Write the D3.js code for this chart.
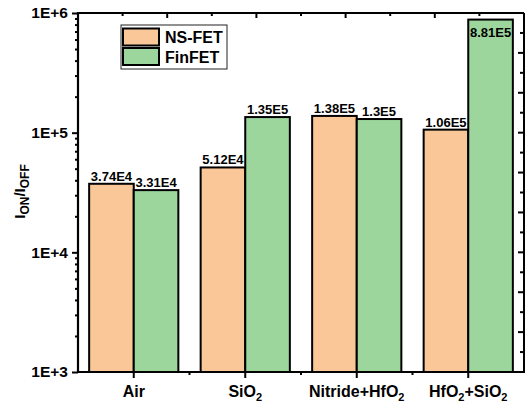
<!DOCTYPE html>
<html>
<head>
<meta charset="utf-8">
<script src="https://cdn.jsdelivr.net/npm/d3@7"></script>
<style>
  html, body { margin: 0; padding: 0; background: #fff; }
  svg { display: block; }
  text { font-family: "Liberation Sans", Arial, sans-serif; font-weight: bold; fill: #000; }
</style>
</head>
<body>
<svg id="chart" width="530" height="402"></svg>
<script>
// Dielectric spacer options on the x axis
const categories = ["Air", "SiO2", "Nitride+HfO2", "HfO2+SiO2"];
// Displayed category labels (subscripted "2")
const categoryLabels = [
  [["Air", false]],
  [["SiO", false], ["2", true]],
  [["Nitride+HfO", false], ["2", true]],
  [["HfO", false], ["2", true], ["+SiO", false], ["2", true]]
];
const seriesNames = ["NS-FET", "FinFET"];
// ION/IOFF ratio per device
const nsfet  = [3.74e4, 5.12e4, 1.38e5, 1.06e5];
const finfet = [3.31e4, 1.35e5, 1.30e5, 8.81e5];
const nsfetLabels  = ["3.74E4", "5.12E4", "1.38E5", "1.06E5"];
const finfetLabels = ["3.31E4", "1.35E5", "1.3E5", "8.81E5"];
const yTicks = [1e3, 1e4, 1e5, 1e6];
const yTickLabels = ["1E+3", "1E+4", "1E+5", "1E+6"];

const colors = ["#FAC898", "#9CD69D"];

const svg = d3.select("#chart");
const margin = { left: 78, right: 6, top: 13, bottom: 30 };
const W = 530, H = 402;
const x0 = margin.left, x1 = W - margin.right;
const y0 = H - margin.bottom, y1 = margin.top;

const x = d3.scaleBand().domain(categories).range([x0, x1]).paddingInner(0.2).paddingOuter(0.1);
const xs = d3.scaleBand().domain(seriesNames).range([0, x.bandwidth()]);
const y = d3.scaleLog().domain([1e3, 1e6]).range([y0, y1]);

const series = [nsfet, finfet];
const labels = [nsfetLabels, finfetLabels];

// Bars
series.forEach((vals, si) => {
  svg.append("g").selectAll("rect")
    .data(vals)
    .join("rect")
    .attr("x", (d, i) => x(categories[i]) + xs(seriesNames[si]))
    .attr("y", d => y(d))
    .attr("width", xs.bandwidth())
    .attr("height", d => y(1e3) - y(d))
    .attr("fill", colors[si])
    .attr("stroke", "#000")
    .attr("stroke-width", 2);
});

// Value labels (placed inside the bar when there is no room above it)
series.forEach((vals, si) => {
  svg.append("g").selectAll("text")
    .data(vals)
    .join("text")
    .attr("x", (d, i) => x(categories[i]) + xs(seriesNames[si]) + xs.bandwidth() / 2)
    .attr("y", d => y(d) - 15 < y1 ? y(d) + 17 : y(d) - 3)
    .attr("text-anchor", "middle")
    .attr("font-size", 13)
    .text((d, i) => labels[si][i]);
});

// Frame
const axisG = svg.append("g").attr("stroke", "#000").attr("fill", "none");
axisG.append("line").attr("x1", x0).attr("x2", x0).attr("y1", y1 - 1).attr("y2", y0 + 1).attr("stroke-width", 2.2);
axisG.append("line").attr("x1", x0 - 1).attr("x2", x1 + 1).attr("y1", y0).attr("y2", y0).attr("stroke-width", 2.2);
axisG.append("line").attr("x1", x0).attr("x2", x1).attr("y1", y1).attr("y2", y1).attr("stroke-width", 2);
axisG.append("line").attr("x1", x1).attr("x2", x1).attr("y1", y1).attr("y2", y0).attr("stroke-width", 2);

// Left axis: major decade ticks and log minor ticks, outward
const leftMinor = [];
for (let e = 3; e < 6; e++) for (let m = 2; m <= 9; m++) leftMinor.push(m * Math.pow(10, e));
const leftAxis = svg.append("g").attr("transform", `translate(${x0},0)`)
  .call(d3.axisLeft(y).tickValues(yTicks).tickFormat((d, i) => yTickLabels[i]).tickSize(6).tickPadding(4));
leftAxis.select(".domain").remove();
leftAxis.selectAll("line").attr("stroke-width", 2);
leftAxis.selectAll("text").attr("font-size", 15.5).attr("font-family", "Liberation Sans, Arial, sans-serif").attr("font-weight", "bold");
const leftMinorAxis = svg.append("g").attr("transform", `translate(${x0},0)`)
  .call(d3.axisLeft(y).tickValues(leftMinor).tickFormat("").tickSize(3));
leftMinorAxis.select(".domain").remove();
leftMinorAxis.selectAll("line").attr("stroke-width", 2);

// Right axis: evenly spaced inward ticks
const yr = d3.scaleLinear().domain([0, 18]).range([y0, y1]);
const rightTicks = d3.range(1, 18);
svg.append("g").selectAll("line")
  .data(rightTicks)
  .join("line")
  .attr("x1", x1)
  .attr("x2", d => x1 - (d % 2 === 0 ? 6 : 4))
  .attr("y1", d => yr(d)).attr("y2", d => yr(d))
  .attr("stroke", "#000").attr("stroke-width", 2);

// Top axis: evenly spaced inward ticks
const xt = d3.scaleLinear().domain([0, 10]).range([x0, x1]);
svg.append("g").selectAll("line")
  .data(d3.range(1, 10))
  .join("line")
  .attr("x1", d => xt(d)).attr("x2", d => xt(d))
  .attr("y1", y1)
  .attr("y2", d => y1 + (d % 2 === 0 ? 5 : 3))
  .attr("stroke", "#000").attr("stroke-width", 2);

// Bottom axis: category ticks and midpoint minor ticks, outward
svg.append("g").selectAll("line")
  .data(categories)
  .join("line")
  .attr("x1", d => x(d) + x.bandwidth() / 2).attr("x2", d => x(d) + x.bandwidth() / 2)
  .attr("y1", y0).attr("y2", y0 + 6)
  .attr("stroke", "#000").attr("stroke-width", 2);
svg.append("g").selectAll("line")
  .data(categories.slice(1))
  .join("line")
  .attr("x1", (d, i) => (x(categories[i]) + x(d) + x.bandwidth()) / 2)
  .attr("x2", (d, i) => (x(categories[i]) + x(d) + x.bandwidth()) / 2)
  .attr("y1", y0).attr("y2", y0 + 3)
  .attr("stroke", "#000").attr("stroke-width", 2);

// Category labels with subscripts
categories.forEach((c, i) => {
  const t = svg.append("text")
    .attr("x", x(c) + x.bandwidth() / 2)
    .attr("y", y0 + 25)
    .attr("text-anchor", "middle")
    .attr("font-size", 16);
  categoryLabels[i].forEach(([s, sub]) => {
    const ts = t.append("tspan").text(s);
    if (sub) ts.attr("font-size", 11).attr("dy", 4);
    else ts.attr("dy", t.selectAll("tspan").size() > 1 ? -4 : 0);
  });
});

// Y axis title
const yt = svg.append("text")
  .attr("transform", `translate(25,${(y0 + y1) / 2 - 1}) rotate(-90)`)
  .attr("text-anchor", "middle")
  .attr("font-size", 15);
yt.append("tspan").text("I");
yt.append("tspan").text("ON").attr("font-size", 12).attr("dy", 4);
yt.append("tspan").text("/I").attr("dy", -4);
yt.append("tspan").text("OFF").attr("font-size", 12).attr("dy", 4);

// Legend
const lg = svg.append("g");
lg.append("rect").attr("x", 121).attr("y", 25).attr("width", 106).attr("height", 44)
  .attr("fill", "#fff").attr("stroke", "#222").attr("stroke-width", 1);
seriesNames.forEach((n, i) => {
  lg.append("rect").attr("x", 123).attr("y", 28.5 + i * 19.5).attr("width", 36).attr("height", 17)
    .attr("fill", colors[i]).attr("stroke", "#000").attr("stroke-width", 2);
  lg.append("text").attr("x", 165).attr("y", 43 + i * 20).attr("font-size", 16).text(n);
});
</script>
</body>
</html>
